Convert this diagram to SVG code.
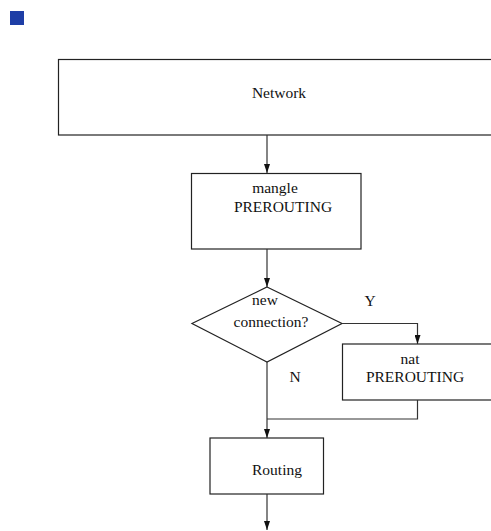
<svg xmlns="http://www.w3.org/2000/svg" width="491" height="531" viewBox="0 0 491 531">
<style>
.box{fill:#fff;stroke:#222;stroke-width:1.2}
.ln{fill:none;stroke:#333;stroke-width:1.2}
text{font-family:"Liberation Serif","Times New Roman",serif;font-size:15.5px;fill:#111;text-anchor:middle}
</style>
<defs>
<marker id="ah" viewBox="0 0 9 6" refX="9" refY="3" markerWidth="9" markerHeight="6" markerUnits="userSpaceOnUse" orient="auto">
<path d="M0,0 L9,3 L0,6 Z" fill="#111"/>
</marker>
</defs>
<rect x="10" y="11" width="14" height="14" fill="#1e3ea6"/>
<g id="network"><rect class="box" x="58.5" y="59.5" width="440" height="75.5"/><text x="279" y="98">Network</text></g>
<g id="mangle"><rect class="box" x="191.5" y="173.5" width="169.5" height="75.5"/><text x="275" y="193">mangle</text><text x="283" y="212">PREROUTING</text></g>
<g id="decision"><polygon class="box" points="267,287 342,323.5 267,362 192,323.5"/><text x="265" y="305">new</text><text x="271" y="327">connection?</text></g>
<g id="nat"><rect class="box" x="342.5" y="344" width="160" height="56"/><text x="410" y="364">nat</text><text x="415" y="382">PREROUTING</text></g>
<g id="routing"><rect class="box" x="210" y="438" width="113.5" height="56"/><text x="277" y="475">Routing</text></g>
<g id="connectors">
<path class="ln" d="M267,135 V173" marker-end="url(#ah)"/>
<path class="ln" d="M267,249 V287" marker-end="url(#ah)"/>
<path class="ln" d="M342,323.5 H417.5 V344" marker-end="url(#ah)"/>
<path class="ln" d="M267,362 V438" marker-end="url(#ah)"/>
<path class="ln" d="M417.5,400 V419 H267"/>
<path class="ln" d="M267,494 V530" marker-end="url(#ah)"/>
<text x="370" y="306">Y</text>
<text x="295" y="382">N</text>
</g>
</svg>
